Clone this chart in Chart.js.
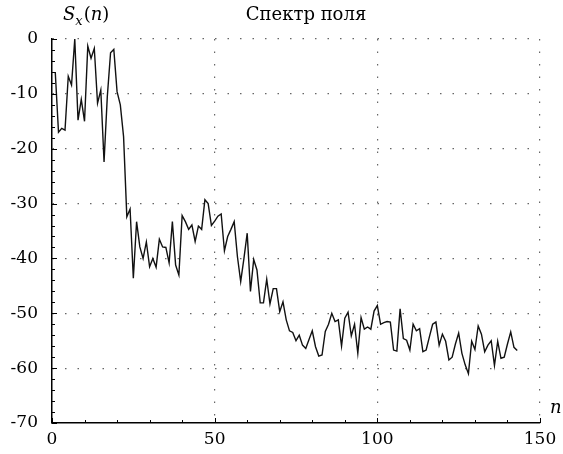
<!DOCTYPE html>
<html>
<head>
<meta charset="utf-8">
<script src="https://cdn.jsdelivr.net/npm/chart.js@4"></script>
<style>
  html, body { margin: 0; padding: 0; background: #fff; }
  #wrap { width: 563px; height: 454px; }
</style>
</head>
<body>
<div id="wrap"><canvas id="chart" width="563" height="454"></canvas></div>
<script>
// спектр поля, значения S_x(n), n = 1..143
const spectrum = [
  -6, -17, -16.3, -16.6, -6.8, -8.4, 0, -14.8, -11, -15,
  -1.3, -3.5, -1.7, -11.7, -9.3, -22.4, -10.5, -2.5, -1.9, -9.6,
  -12, -17.8, -32.4, -31, -43.6, -33.3, -37.9, -40, -37, -41.5,
  -40, -41.6, -36.5, -37.9, -38, -40.8, -33.3, -41.2, -43, -32.2,
  -33.3, -34.7, -33.9, -36.9, -34.1, -34.7, -29.3, -30, -34, -33.2,
  -32.3, -31.9, -38.6, -36, -34.7, -33.3, -39.7, -44.2, -40, -35.4,
  -46, -40.2, -42.1, -48.1, -48.1, -43.8, -48.3, -45.5, -45.5, -49.7,
  -47.9, -51.2, -53.2, -53.5, -55, -54, -55.8, -56.4, -54.8, -53.2,
  -56.1, -57.8, -57.6, -53.3, -52, -50, -51.5, -51.2, -56, -50.9,
  -49.8, -54.1, -52, -57.3, -50.8, -52.9, -52.5, -52.9, -49.6, -48.6,
  -52, -51.7, -51.5, -51.6, -56.7, -56.9, -49.2, -54.6, -54.9, -56.7,
  -52, -53.2, -52.8, -57, -56.7, -54.3, -52, -51.6, -55.8, -53.8,
  -55.1, -58.5, -58, -55.6, -53.6, -57.3, -59.4, -61, -55.1, -56.6,
  -52.3, -53.8, -57, -55.8, -55, -59.5, -55.1, -58.2, -58, -55.6,
  -53.4, -56.2, -56.8
];
const nValues = spectrum.map((v, i) => i + 1);

const xTicks = [0, 50, 100, 150];
const yTicks = [0, -10, -20, -30, -40, -50, -60, -70];

const titleText = "Спектр поля";
const serif = "'DejaVu Serif', 'Liberation Serif', serif";

const points = nValues.map((n, i) => ({ x: n, y: spectrum[i] }));

// подписи и засечки внутрь
const extras = {
  id: "extras",
  afterDraw(chart) {
    const ctx = chart.ctx;
    const xs = chart.scales.x;
    const ys = chart.scales.y;
    const area = chart.chartArea;
    ctx.save();
    ctx.strokeStyle = "#000";
    ctx.lineWidth = 1;
    // засечки по x
    for (let v = 0; v <= 150; v += 10) {
      const px = Math.round(xs.getPixelForValue(v)) + 0.5;
      const len = v % 50 === 0 ? 5 : 3;
      ctx.beginPath();
      ctx.moveTo(px, area.bottom);
      ctx.lineTo(px, area.bottom - len);
      ctx.stroke();
    }
    // засечки по y
    for (let v = -70; v <= 0; v += 2) {
      const py = Math.round(ys.getPixelForValue(v)) + 0.5;
      const len = v % 10 === 0 ? 5 : 3;
      ctx.beginPath();
      ctx.moveTo(area.left, py);
      ctx.lineTo(area.left + len, py);
      ctx.stroke();
    }
    ctx.fillStyle = "#000";
    ctx.textBaseline = "alphabetic";
    // заголовок
    ctx.font = "18px " + serif;
    ctx.textAlign = "center";
    ctx.fillText(titleText, 306, 20);
    // S_x(n)
    ctx.textAlign = "left";
    let x0 = 63;
    ctx.font = "italic 18px " + serif;
    ctx.fillText("S", x0, 20);
    x0 += ctx.measureText("S").width;
    ctx.font = "italic 13px " + serif;
    ctx.fillText("x", x0, 25);
    x0 += ctx.measureText("x").width + 1;
    ctx.font = "18px " + serif;
    ctx.fillText("(", x0, 20);
    x0 += ctx.measureText("(").width;
    ctx.font = "italic 18px " + serif;
    ctx.fillText("n", x0, 20);
    x0 += ctx.measureText("n").width;
    ctx.font = "18px " + serif;
    ctx.fillText(")", x0, 20);
    // n у оси
    ctx.font = "italic 18px " + serif;
    ctx.fillText("n", 550, 413);
    ctx.restore();
  }
};

new Chart(document.getElementById("chart"), {
  type: "line",
  data: {
    datasets: [{
      data: points,
      borderColor: "#111",
      borderWidth: 1.4,
      pointRadius: 0,
      tension: 0,
      fill: false
    }]
  },
  options: {
    responsive: false,
    animation: false,
    layout: { padding: { left: 0, right: 23, top: 39, bottom: 0 } },
    plugins: {
      legend: { display: false },
      tooltip: { enabled: false },
      title: { display: false }
    },
    scales: {
      x: {
        type: "linear",
        min: 0,
        max: 150,
        afterFit: (s) => { s.height = 31; },
        afterBuildTicks: (s) => { s.ticks = xTicks.map(v => ({ value: v })); },
        ticks: {
          color: "#000",
          font: { family: serif, size: 17 },
          padding: 6,
          maxRotation: 0
        },
        grid: {
          color: (c) => (c.tick && c.tick.value === 0 ? "rgba(0,0,0,0)" : "#666"),
          lineWidth: 1.2,
          drawTicks: false
        },
        border: { color: "#000", width: 1.5, dash: [1.5, 11] }
      },
      y: {
        type: "linear",
        min: -70,
        max: 0,
        afterFit: (s) => { s.width = 52; },
        afterBuildTicks: (s) => { s.ticks = yTicks.map(v => ({ value: v })); },
        ticks: {
          color: "#000",
          font: { family: serif, size: 17 },
          padding: 14
        },
        grid: {
          color: (c) => (c.tick && c.tick.value === -70 ? "rgba(0,0,0,0)" : "#666"),
          lineWidth: 1.2,
          drawTicks: false
        },
        border: { color: "#000", width: 1.5, dash: [1.5, 11] }
      }
    }
  },
  plugins: [extras]
});
</script>
</body>
</html>
